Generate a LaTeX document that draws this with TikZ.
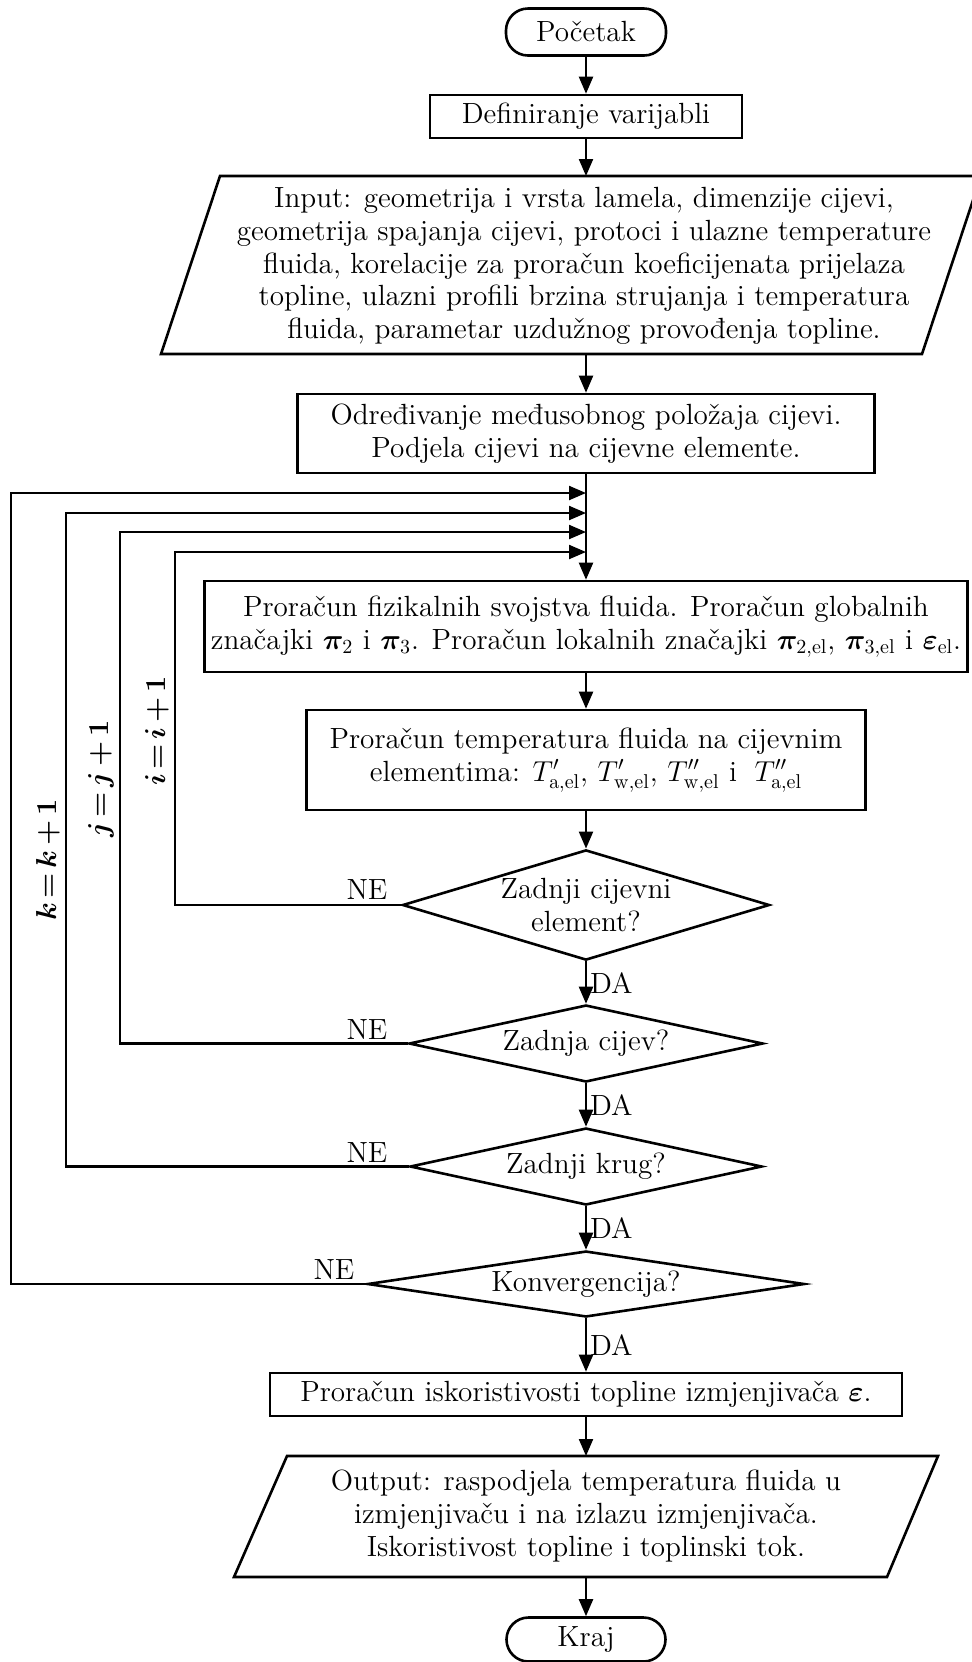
\documentclass[tikz,border=0pt]{standalone}
\usepackage{bm}
\usetikzlibrary{shapes.geometric,arrows.meta,calc}
\begin{document}
\begin{tikzpicture}[x=0.5pt,y=-0.5pt,
  every node/.style={font=\fontsize{14.6}{16.4}\selectfont},
  box/.style={draw,line width=1.3pt,inner sep=0pt,align=center},
  term/.style={box,rounded corners=11pt},
  dec/.style={draw,line width=1.3pt,diamond,inner sep=0pt,align=center,aspect=4},
  arr/.style={-{Triangle[length=8.5pt,width=7pt]},line width=1.1pt},
  shp/.style={line width=1.3pt},
  lbl/.style={inner sep=1.5pt},
  rlbl/.style={rotate=90,anchor=south,inner sep=1pt}]
\useasboundingbox (0,0) rectangle (972,1662);
% nodes
\node[term,minimum width=80pt,minimum height=23.5pt] (start) at (586,32) {Početak};
\node[box,minimum width=156pt,minimum height=21.5pt] (def) at (586,116.5) {Definiranje varijabli};
\draw[shp] (220,176) -- (981,176) -- (922,354) -- (161,354) -- cycle;
\coordinate (inT) at (586,176);
\coordinate (inB) at (586,354);
\node[align=center] (inp) at (584,266) {Input: geometrija i vrsta lamela, dimenzije cijevi,\\
geometrija spajanja cijevi, protoci i ulazne temperature\\
fluida, korelacije za proračun koeficijenata prijelaza\\
topline, ulazni profili brzina strujanja i temperatura\\
fluida, parametar uzdužnog provođenja topline.};
\node[box,minimum width=288.5pt,minimum height=39.5pt] (odr) at (586,433.5) {Određivanje međusobnog položaja cijevi.\\Podjela cijevi na cijevne elemente.};
\node[box,minimum width=381.5pt,minimum height=45.5pt] (fiz) at (586,626.5) {Proračun fizikalnih svojstva fluida. Proračun globalnih\\značajki $\bm{\pi}_2$ i $\bm{\pi}_3$. Proračun lokalnih značajki $\bm{\pi}_{2,\mathrm{el}}$, $\bm{\pi}_{3,\mathrm{el}}$ i $\bm{\varepsilon}_{\mathrm{el}}$.};
\node[box,minimum width=279.5pt,minimum height=50pt] (tmp) at (586,760) {Proračun temperatura fluida na cijevnim\\elementima: $T'_{\mathrm{a,el}}$, $T'_{\mathrm{w,el}}$, $T''_{\mathrm{w,el}}$ i $\;T''_{\mathrm{a,el}}$};
\node[dec,aspect=3,minimum width=183.5pt,minimum height=55pt] (d1) at (586,905) {Zadnji cijevni\\element?};
\node[dec,minimum width=177pt,minimum height=38.5pt] (d2) at (586,1043.5) {Zadnja cijev?};
\node[dec,minimum width=176pt,minimum height=38.5pt] (d3) at (586,1166.5) {Zadnji krug?};
\node[dec,aspect=5,minimum width=218.5pt,minimum height=33pt] (d4) at (586,1284) {Konvergencija?};
\node[box,minimum width=316pt,minimum height=21.5pt] (isk) at (586,1394.5) {Proračun iskoristivosti topline izmjenjivača $\bm{\varepsilon}$.};
\draw[shp] (287,1456) -- (938,1456) -- (887,1577) -- (234,1577) -- cycle;
\coordinate (outT) at (586,1456);
\coordinate (outB) at (586,1577);
\node[align=center] (out) at (586,1516) {Output: raspodjela temperatura fluida u\\izmjenjivaču i na izlazu izmjenjivača.\\Iskoristivost topline i toplinski tok.};
\node[term,minimum width=79.5pt,minimum height=22pt] (end) at (586,1639.5) {Kraj};
% main flow
\draw[arr] (start) -- (def);
\draw[arr] (def) -- (inT);
\draw[arr] (inB) -- (odr);
\draw[arr] (odr) -- (fiz);
\draw[arr] (fiz) -- (tmp);
\draw[arr] (tmp) -- (d1);
\draw[arr] (d1) -- node[right,lbl] (da1) {DA} (d2);
\draw[arr] (d2) -- node[right,lbl] (da2) {DA} (d3);
\draw[arr] (d3) -- node[right,lbl] (da3) {DA} (d4);
\draw[arr] (d4) -- node[right,lbl] (da4) {DA} (isk);
\draw[arr] (isk) -- (outT);
\draw[arr] (outB) -- (end);
% loops
\coordinate (m1) at (586,493);
\coordinate (m2) at (586,513);
\coordinate (m3) at (586,532);
\coordinate (m4) at (586,552);
\coordinate (c1) at (175,552);
\coordinate (c2) at (120,532);
\coordinate (c3) at (66,513);
\coordinate (c4) at (11,493);
\draw[arr] (d1.west) -| (c1) -- (m4);
\draw[arr] (d2.west) -| (c2) -- (m3);
\draw[arr] (d3.west) -| (c3) -- (m2);
\draw[arr] (d4.west) -| (c4) -- (m1);
\node (ne1) at (367,890) {NE};
\node (ne2) at (367,1030) {NE};
\node (ne3) at (367,1153) {NE};
\node (ne4) at (334,1270) {NE};
\node[rlbl] (labi) at (171,731) {$\bm{i\,{=}\,i\,{+}\,1}$};
\node[rlbl] (labj) at (116,779) {$\bm{j\,{=}\,j\,{+}\,1}$};
\node[rlbl] (labk) at (62,860) {$\bm{k\,{=}\,k\,{+}\,1}$};
\end{tikzpicture}
\end{document}
